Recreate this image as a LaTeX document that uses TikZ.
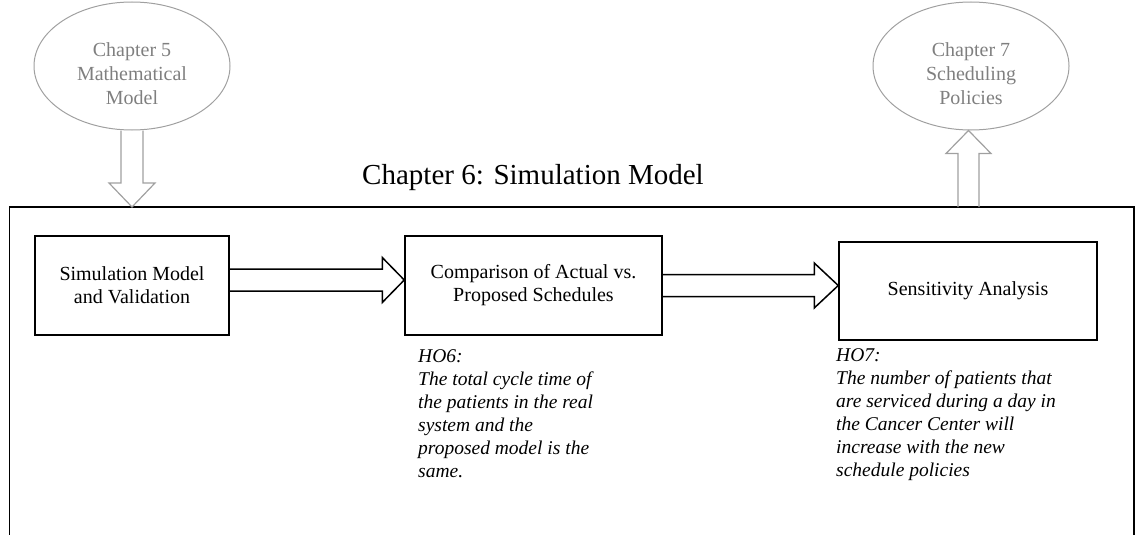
\documentclass[tikz,border=0pt]{standalone}
\usepackage{fontspec}
\setmainfont{Liberation Serif}
\usetikzlibrary{shapes.geometric,calc}

\definecolor{chapgray}{HTML}{A0A0A0}
\definecolor{chaptext}{HTML}{7F7F7F}

\tikzset{
  chapter/.style={ellipse, draw=chapgray, line width=1pt,
    minimum width=196pt, minimum height=128pt, inner sep=0pt},
  chaptertext/.style={text=chaptext, inner sep=0pt, align=center,
    font=\fontsize{20}{24}\selectfont},
  stage/.style={rectangle, draw, line width=1.5pt, inner sep=0pt, align=center,
    font=\fontsize{20}{23}\selectfont},
  hypo/.style={anchor=north west, inner sep=0pt, align=left,
    font=\fontsize{19.5}{23}\selectfont\itshape},
  grayarrow/.style={draw=chapgray, line width=1.2pt, line join=miter},
  blackarrow/.style={draw=black, line width=1.5pt, line join=miter}
}

\begin{document}
\begin{tikzpicture}[x=1pt, y=-1pt]
        \useasboundingbox (0,0) rectangle (1138,535);
        % outer frame, open at the bottom
        \coordinate (frsw) at (9.5,535);
        \coordinate (frnw) at (9.5,207);
        \coordinate (frne) at (1134,207);
        \coordinate (frse) at (1134,535);
        \draw[line width=1.5pt] (frsw) -- (frnw) -- (frne) -- (frse);
        \node (title) at (533,178) {\fontsize{29}{32}\selectfont Chapter 6: Simulation Model};
        % chapters before and after
        \node[chapter] (ch5) at (132,66) {};
        \node[chaptertext] (ch5text) at ($(ch5)+(0,8)$) {Chapter 5\\Mathematical\\Model};
        \node[chapter] (ch7) at (971,66) {};
        \node[chaptertext] (ch7text) at ($(ch7)+(0,8)$) {Chapter 7\\Scheduling\\Policies};
        % stages
        \node[stage, minimum width=194pt, minimum height=99pt] (simval) at (132,285.5)
             {Simulation Model\\and Validation};
        \node[stage, minimum width=257pt, minimum height=99pt] (compare) at (533.5,285.5)
             {Comparison of Actual vs.\\Proposed Schedules};
        \node[stage, minimum width=258pt, minimum height=98pt] (sens) at (968,291)
             {Sensitivity Analysis};
        % hypotheses
        \node[hypo] (ho6) at (418,349) {HO6:\\The total cycle time of\\the patients in the real\\system and the\\proposed model is the\\same.};
        \node[hypo] (ho7) at (836,348) {HO7:\\The number of patients that\\are serviced during a day in\\the Cancer Center will\\increase with the new\\schedule policies};
        % block arrows
        \draw[grayarrow] let \p1=(ch5.south), \p2=(ch5.south |- frnw) in
              (\x1-11,\y1) -- (\x1-11,\y2+24) -- (\x1-23,\y2+24) -- (\x2,\y2)
              -- (\x1+23,\y2+24) -- (\x1+11,\y2+24) -- (\x1+11,\y1);
        \coordinate (upbase) at (968.5,207);
        \draw[grayarrow] let \p1=(upbase), \p2=(ch7.south) in
              (\x1-10.5,\y1) -- (\x1-10.5,\y2-23) -- (\x1-22.5,\y2-23) -- (\x1,\y2)
              -- (\x1+22.5,\y2-23) -- (\x1+10.5,\y2-23) -- (\x1+10.5,\y1);
        \draw[blackarrow] let \p1=($(simval.east)+(0,-5.5)$), \p2=(compare.west) in
              (\x1,\y1+11) -- (\x2-22,\y1+11) -- (\x2-22,\y1+22.5) -- (\x2,\y1)
              -- (\x2-22,\y1-22.5) -- (\x2-22,\y1-11) -- (\x1,\y1-11);
        \draw[blackarrow] let \p1=(compare.east), \p2=(sens.west) in
              (\x1,\y1+11) -- (\x2-24,\y1+11) -- (\x2-24,\y1+22.5) -- (\x2,\y1)
              -- (\x2-24,\y1-22.5) -- (\x2-24,\y1-11) -- (\x1,\y1-11);
    \end{tikzpicture}
\end{document}
